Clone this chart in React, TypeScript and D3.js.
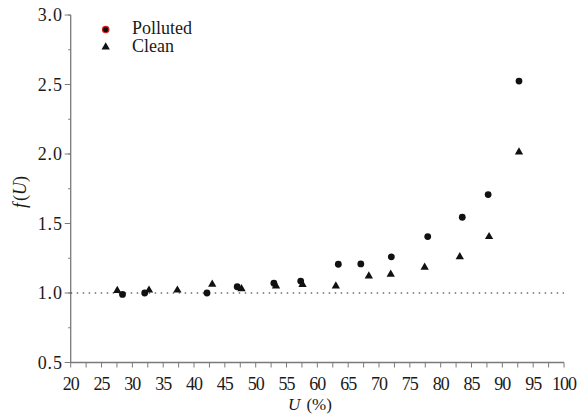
import React from "react";
import * as d3 from "d3";

const pollutedU = [28.4, 32.0, 42.1, 47.0, 52.95, 57.3, 63.4, 67.05, 72.0, 77.9, 83.5, 87.7, 92.7];
const pollutedF = [0.99, 1.0, 1.0, 1.045, 1.07, 1.086, 1.207, 1.209, 1.26, 1.406, 1.545, 1.708, 2.525];
const cleanU = [27.55, 32.7, 37.3, 42.95, 47.7, 53.3, 57.6, 63.0, 68.35, 71.9, 77.4, 83.1, 87.85, 92.7];
const cleanF = [1.017, 1.02, 1.02, 1.063, 1.03, 1.05, 1.06, 1.05, 1.122, 1.135, 1.185, 1.26, 1.405, 2.014];
const xTickLabels = [20, 25, 30, 35, 40, 45, 50, 55, 60, 65, 70, 75, 80, 85, 90, 95, 100];
const xMinorTicks = d3.range(20, 100.01, 2.5);
const yTickLabels = [0.5, 1.0, 1.5, 2.0, 2.5, 3.0];
const yMinorTicks = d3.range(0.5, 3.01, 0.25);
const legendNames = ["Polluted", "Clean"];

const W = 579;
const H = 415;
const x = d3.scaleLinear().domain([20, 100]).range([70.7, 564]);
const y = d3.scaleLinear().domain([0.5, 3.0]).range([362.5, 15]);

const FONT = '"Liberation Serif", "DejaVu Serif", "Times New Roman", Times, serif';
const AXIS = "#7a7a7a";
const INK = "#1a1a1a";

const tri = d3.symbol().type(d3.symbolTriangle).size(30)() as string;

export default function App() {
  const x0 = x.range()[0];
  const y0 = y.range()[0];
  const ts = { fontFamily: FONT } as React.CSSProperties;
  return (
    <svg width={W} height={H} style={{ position: "absolute", left: 0, top: 0, background: "#fff", fontFamily: FONT }}>
      {/* y axis */}
      <line x1={x0} x2={x0} y1={y(3.0)} y2={y0} stroke={AXIS} strokeWidth={1.3} />
      {yMinorTicks.map((v) => (
        <line key={"ym" + v} x1={x0 - 2.5} x2={x0} y1={y(v)} y2={y(v)} stroke={AXIS} strokeWidth={1} />
      ))}
      {yTickLabels.map((v) => (
        <g key={"yt" + v}>
          <line x1={x0 - 6} x2={x0} y1={y(v)} y2={y(v)} stroke={AXIS} strokeWidth={1} />
          <text x={x0 - 8} y={y(v) + 6} textAnchor="end" style={ts} fontSize={18} fill={INK} letterSpacing={0.8}>
            {v.toFixed(1)}
          </text>
        </g>
      ))}
      {/* x axis */}
      <line x1={x0} x2={x(100)} y1={y0} y2={y0} stroke={AXIS} strokeWidth={1.3} />
      {xMinorTicks.map((v) => (
        <line key={"xm" + v} x1={x(v)} x2={x(v)} y1={y0} y2={y0 + 5} stroke={AXIS} strokeWidth={1} />
      ))}
      {xTickLabels.map((v) => (
        <text key={"xt" + v} x={x(v)} y={390} textAnchor="middle" style={ts} fontSize={18} fill={INK} letterSpacing={-1}>
          {v}
        </text>
      ))}
      {/* reference line */}
      <line x1={x0} x2={x(100)} y1={y(1.0)} y2={y(1.0)} stroke="#222" strokeWidth={1.2} strokeDasharray="1.5,4.5" />
      {/* data */}
      {cleanU.map((u, i) => (
        <path key={"c" + i} d={tri} transform={`translate(${x(u)},${y(cleanF[i])})`} fill="#111" />
      ))}
      {pollutedU.map((u, i) => (
        <circle key={"p" + i} cx={x(u)} cy={y(pollutedF[i])} r={3.4} fill="#111" />
      ))}
      {/* legend */}
      <circle cx={105.7} cy={29.5} r={3.2} fill="#111" stroke="#d42020" strokeWidth={1.2} />
      <text x={132} y={33.5} style={ts} fontSize={18} fill={INK}>{legendNames[0]}</text>
      <path d={tri} transform="translate(105.7,47)" fill="#111" />
      <text x={132} y={52} style={ts} fontSize={18} fill={INK}>{legendNames[1]}</text>
      {/* axis titles */}
      <text x={310} y={410} textAnchor="middle" style={ts} fontSize={17} fill={INK}>
        <tspan fontStyle="italic">U</tspan>
        <tspan dx={6}>(%)</tspan>
      </text>
      <text transform="translate(26,192) rotate(-90)" textAnchor="middle" style={ts} fontSize={18} fill={INK}>
        <tspan fontStyle="italic">f</tspan>
        <tspan dx={2}>(</tspan>
        <tspan fontStyle="italic">U</tspan>
        <tspan>)</tspan>
      </text>
    </svg>
  );
}
